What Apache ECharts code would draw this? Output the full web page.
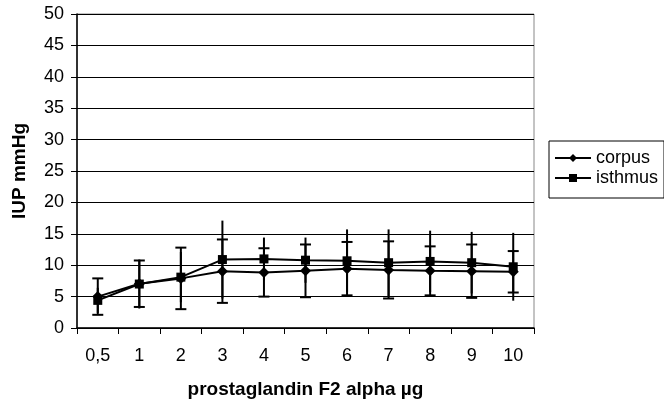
<!DOCTYPE html>
<html><head><meta charset="utf-8">
<script src="https://cdn.jsdelivr.net/npm/echarts@6/dist/echarts.min.js"></script>
<style>html,body{margin:0;padding:0;background:#fff}#c{width:664px;height:404px}</style>
</head><body><div id="c"></div>
<script>
var categories = ['0,5','1','2','3','4','5','6','7','8','9','10'];
var corpus = [5.0, 7.05, 7.9, 9.05, 8.85, 9.1, 9.45, 9.25, 9.1, 9.05, 8.95];
var corpusSD = [2.9, 3.7, 4.9, 5.05, 3.85, 4.2, 4.25, 4.55, 3.9, 4.25, 3.3];
var isthmus = [4.4, 7.0, 8.1, 10.9, 11.0, 10.8, 10.7, 10.4, 10.6, 10.4, 9.75];
var isthmusSD = [2.0, 3.9, 4.0, 6.2, 3.4, 3.6, 5.0, 5.3, 4.9, 4.9, 5.4];
var yTicks = {min: 0, max: 50, interval: 5};

function errData(mean, sd){
  return mean.map(function(m,i){ return [i, m - sd[i], m + sd[i]]; });
}
function errRender(capW){
  return function(params, api){
    var x = api.value(0), lo = api.value(1), hi = api.value(2);
    var p1 = api.coord([x, hi]), p2 = api.coord([x, lo]);
    var st = {stroke:'#000', lineWidth:2};
    var children = [{type:'line', shape:{x1:p1[0],y1:p1[1],x2:p2[0],y2:p2[1]}, style:st}];
    if (capW > 0){
      children.push({type:'line', shape:{x1:p1[0]-capW/2,y1:p1[1],x2:p1[0]+capW/2,y2:p1[1]}, style:st});
      children.push({type:'line', shape:{x1:p2[0]-capW/2,y1:p2[1],x2:p2[0]+capW/2,y2:p2[1]}, style:st});
    }
    return {type:'group', children:children};
  };
}
var font = 'Liberation Sans, Arial, sans-serif';
var chart = echarts.init(document.getElementById('c'), null, {renderer:'canvas'});
chart.setOption({
  animation:false,
  backgroundColor:'#fff',
  grid:{left:77, right:130, top:14, bottom:75, show:true, borderColor:'#888', borderWidth:1, backgroundColor:'transparent'},
  legend:{
    orient:'vertical', left:549, top:141,
    data:['corpus','isthmus'],
    borderColor:'#000', borderWidth:1, padding:[8,6,11,5],
    itemWidth:36, itemHeight:10, itemGap:2,
    textStyle:{fontFamily:font, fontSize:18, color:'#000', lineHeight:18}
  },
  xAxis:{
    type:'category', data:categories, boundaryGap:true,
    name:'prostaglandin F2 alpha µg', nameLocation:'middle', nameGap:52,
    nameTextStyle:{fontFamily:font, fontSize:19, fontWeight:'bold', color:'#000'},
    axisLine:{lineStyle:{color:'#000', width:1.5}},
    axisTick:{show:true, alignWithLabel:false, length:6, lineStyle:{color:'#000'}},
    axisLabel:{fontFamily:font, fontSize:18, color:'#000', margin:19}
  },
  yAxis:{
    type:'value', min:yTicks.min, max:yTicks.max, interval:yTicks.interval,
    name:'IUP mmHg', nameLocation:'middle', nameGap:48, nameRotate:90,
    nameTextStyle:{fontFamily:font, fontSize:19, fontWeight:'bold', color:'#000'},
    axisLine:{show:true, lineStyle:{color:'#000', width:1.5}},
    axisTick:{show:true, length:6, lineStyle:{color:'#000'}},
    axisLabel:{fontFamily:font, fontSize:18, color:'#000', margin:13},
    splitLine:{show:true, lineStyle:{color:'#000', width:1}}
  },
  series:[
    {name:'corpus', type:'line', data:corpus, symbol:'diamond', symbolSize:11,
     itemStyle:{color:'#000'}, lineStyle:{color:'#000', width:2}, z:3},
    {name:'isthmus', type:'line', data:isthmus, symbol:'rect', symbolSize:9,
     itemStyle:{color:'#000'}, lineStyle:{color:'#000', width:2}, z:3},
    {name:'corpusErr', type:'custom', data:errData(corpus, corpusSD), renderItem:errRender(11),
     encode:{x:0, y:[1,2]}, z:4, silent:true},
    {name:'isthmusErr', type:'custom', data:errData(isthmus, isthmusSD), renderItem:errRender(0),
     encode:{x:0, y:[1,2]}, z:4, silent:true}
  ]
});
</script></body></html>
